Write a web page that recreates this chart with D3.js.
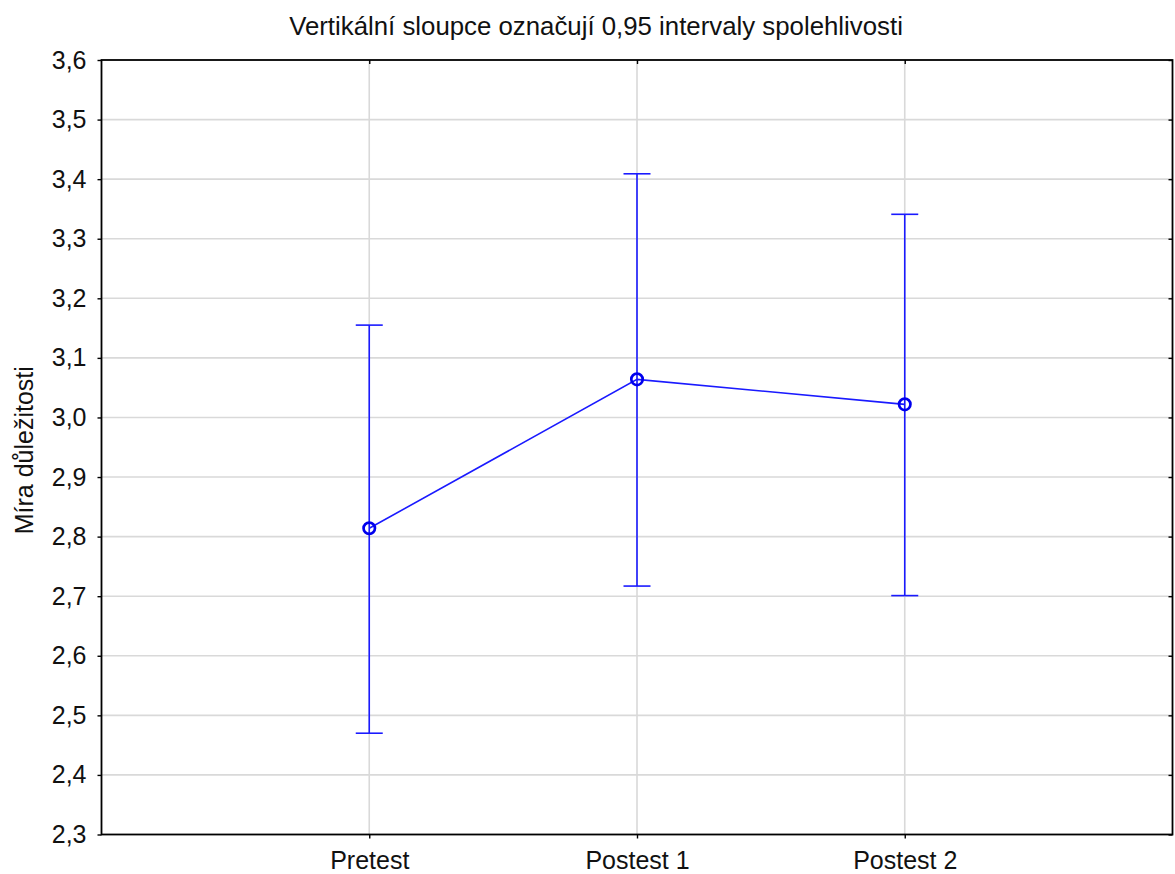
<!DOCTYPE html>
<html><head><meta charset="utf-8">
<script src="https://cdn.jsdelivr.net/npm/d3@7"></script>
<style>body{margin:0;background:#fff}svg{display:block;font-family:"Liberation Sans",Arial,sans-serif}</style>
</head><body><svg id="c" width="1175" height="874"></svg>
<script>
const categories = ["Pretest", "Postest 1", "Postest 2"];
const means = [2.814, 3.064, 3.022];
const lower = [2.470, 2.717, 2.701];
const upper = [3.155, 3.409, 3.341];
const yTicks = [2.3, 2.4, 2.5, 2.6, 2.7, 2.8, 2.9, 3.0, 3.1, 3.2, 3.3, 3.4, 3.5, 3.6];
const title = "Vertikální sloupce označují 0,95 intervaly spolehlivosti";
const yTitle = "Míra důležitosti";

const svg = d3.select("#c");
const L = 101.5, R = 1172.5, T = 60, B = 834.5;
const x = d3.scalePoint().domain(categories).range([L, R]).padding(1);
const y = d3.scaleLinear().domain([2.3, 3.6]).range([B, T]);
const fmt = d => d3.format(".1f")(d).replace(".", ",");
const blue = "#1a1aff";

// grid
svg.append("g").selectAll("line").data(yTicks.slice(1, -1)).join("line")
  .attr("x1", L).attr("x2", R).attr("y1", d => y(d)).attr("y2", d => y(d))
  .attr("stroke", "#d9d9d9").attr("stroke-width", 1.6);
svg.append("g").selectAll("line").data(categories).join("line")
  .attr("x1", d => x(d)).attr("x2", d => x(d)).attr("y1", T).attr("y2", B)
  .attr("stroke", "#d9d9d9").attr("stroke-width", 1.6);

// axes
const yAxis = d3.axisLeft(y).tickValues(yTicks).tickFormat(fmt).tickSize(4).tickPadding(11);
const gy = svg.append("g").attr("transform", `translate(${L},0)`).call(yAxis);
gy.select(".domain").remove();
gy.selectAll("line").attr("stroke", "#000").attr("stroke-width", 1.4);
gy.selectAll("text").attr("font-size", 25).attr("fill", "#111");

const gyr = svg.append("g").attr("transform", `translate(${R},0)`).call(d3.axisRight(y).tickValues(yTicks).tickSize(-4).tickFormat(""));
gyr.select(".domain").remove();
gyr.selectAll("line").attr("stroke", "#000").attr("stroke-width", 1.4);

const gx = svg.append("g").attr("transform", `translate(0,${B})`).call(d3.axisBottom(x).tickSize(4).tickPadding(0));
gx.select(".domain").remove();
gx.selectAll("line").attr("stroke", "#000").attr("stroke-width", 1.4);
gx.selectAll("text").attr("font-size", 25).attr("fill", "#111").attr("y", 34).attr("dy", null);

const gxt = svg.append("g").attr("transform", `translate(0,${T})`).call(d3.axisTop(x).tickSize(-4).tickFormat(""));
gxt.select(".domain").remove();
gxt.selectAll("line").attr("stroke", "#000").attr("stroke-width", 1.4);

// frame
svg.append("rect").attr("x", L).attr("y", T).attr("width", R - L).attr("height", B - T)
  .attr("fill", "none").attr("stroke", "#000").attr("stroke-width", 1.8);

// error bars
const eb = svg.append("g").attr("stroke", blue).attr("stroke-width", 1.6).attr("fill", "none");
categories.forEach((c, i) => {
  eb.append("line").attr("x1", x(c)).attr("x2", x(c)).attr("y1", y(lower[i])).attr("y2", y(upper[i]));
  eb.append("line").attr("x1", x(c) - 13.5).attr("x2", x(c) + 13.5).attr("y1", y(lower[i])).attr("y2", y(lower[i]));
  eb.append("line").attr("x1", x(c) - 13.5).attr("x2", x(c) + 13.5).attr("y1", y(upper[i])).attr("y2", y(upper[i]));
});

// mean line
svg.append("path").datum(categories.map((c, i) => [x(c), y(means[i])]))
  .attr("d", d3.line()).attr("fill", "none").attr("stroke", blue).attr("stroke-width", 1.6);
svg.append("g").selectAll("circle").data(categories).join("circle")
  .attr("cx", d => x(d)).attr("cy", (d, i) => y(means[i])).attr("r", 5.7)
  .attr("fill", "none").attr("stroke", "#0000ee").attr("stroke-width", 2.7);

// titles
svg.append("text").attr("x", 596).attr("y", 35).attr("text-anchor", "middle")
  .attr("font-size", 25.8).attr("fill", "#111").text(title);
svg.append("text").attr("transform", `translate(33,${(T + B) / 2 + 3}) rotate(-90)`)
  .attr("text-anchor", "middle").attr("font-size", 25).attr("fill", "#111").text(yTitle);
</script></body></html>
